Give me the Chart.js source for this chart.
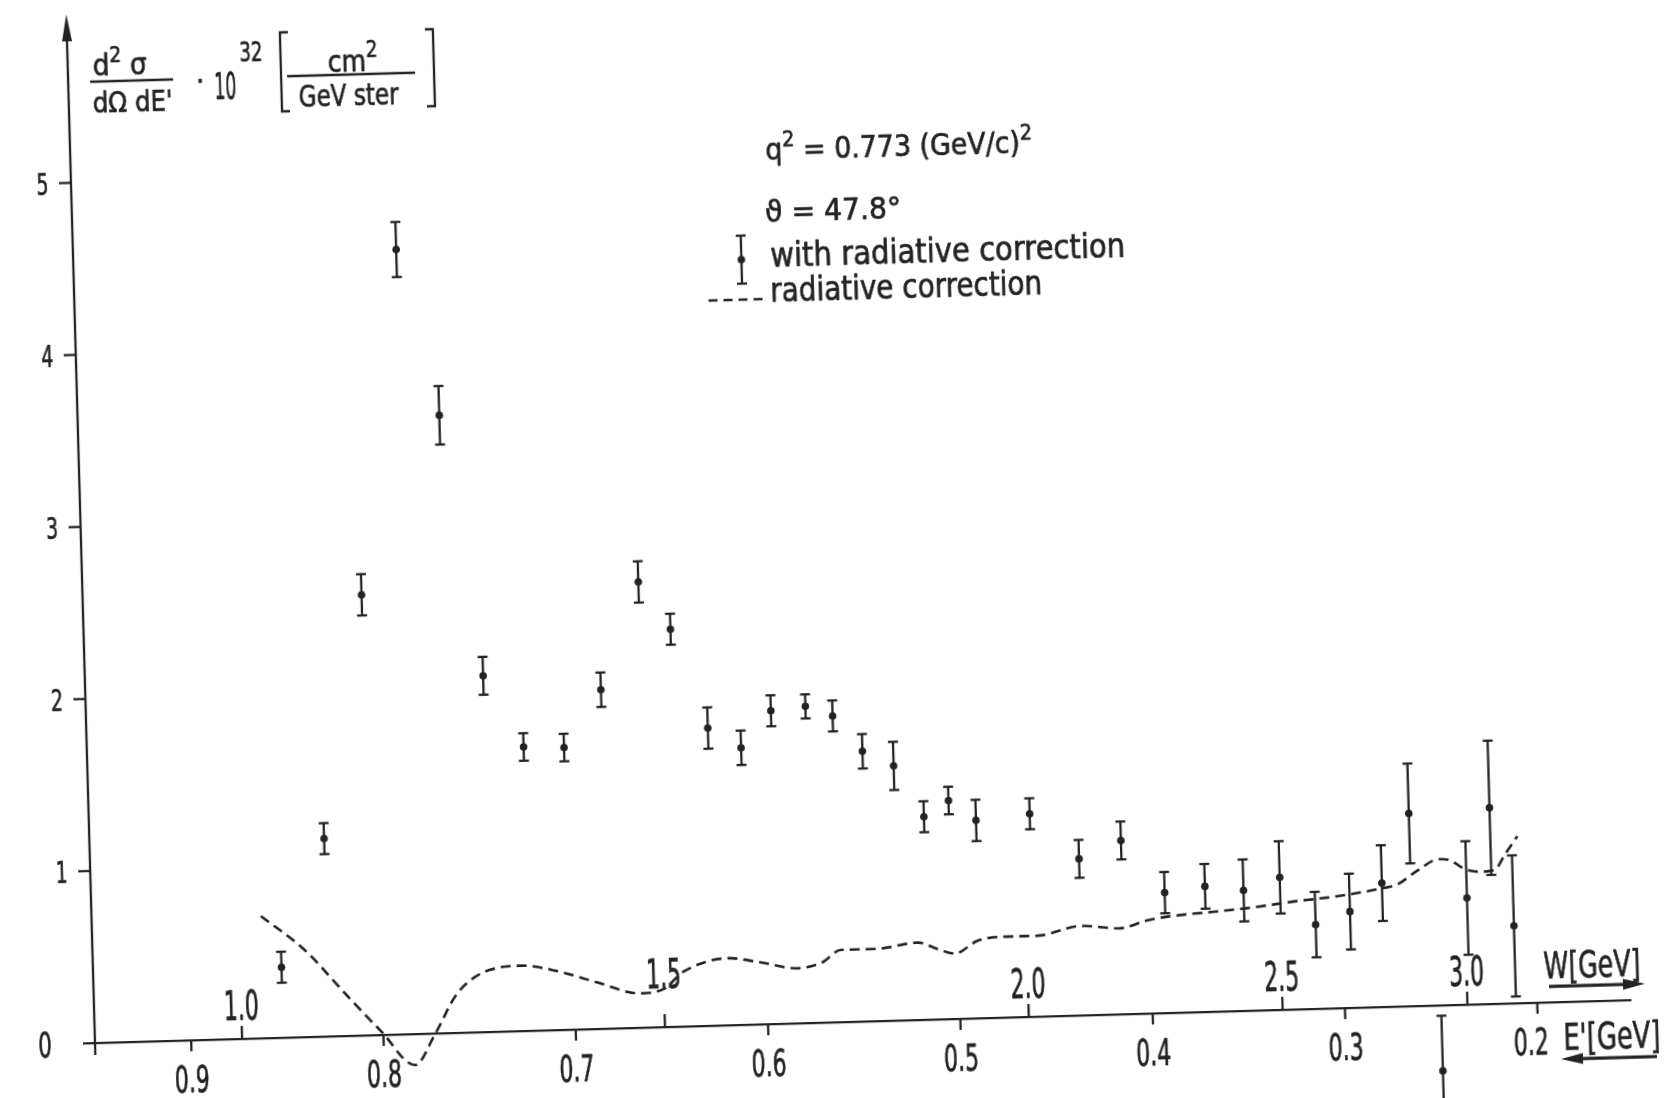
<!DOCTYPE html>
<html>
<head>
<meta charset="utf-8">
<script src="https://cdn.jsdelivr.net/npm/chart.js@4.4.1/dist/chart.umd.min.js"></script>
<style>
html,body{margin:0;padding:0;background:#fff;overflow:hidden;width:1668px;height:1098px;}
#wrap{position:absolute;left:0;top:0;width:1700px;height:1160px;transform-origin:95px 1043px;transform:rotate(-1.6deg);}
canvas{display:block;}
</style>
</head>
<body>
<div id="wrap"><canvas id="c" width="1700" height="1160"></canvas></div>
<script>
// ---- data ----
const ePrime = [0.852, 0.828, 0.805, 0.782, 0.762, 0.743, 0.723, 0.702, 0.682, 0.661, 0.645, 0.627,
                0.610, 0.594, 0.576, 0.562, 0.547, 0.531, 0.516, 0.503, 0.489, 0.461, 0.436, 0.414,
                0.392, 0.371, 0.351, 0.332, 0.314, 0.296, 0.279, 0.264, 0.250, 0.235, 0.222, 0.211];
const sigma = [0.41, 1.15, 2.56, 4.56, 3.59, 2.07, 1.65, 1.64, 1.97, 2.59, 2.31, 1.73,
               1.61, 1.82, 1.84, 1.78, 1.57, 1.48, 1.18, 1.27, 1.15, 1.18, 0.91, 1.01,
               0.70, 0.73, 0.70, 0.77, 0.49, 0.56, 0.72, 1.12, -0.38, 0.62, 1.14, 0.45];
const sigmaErr = [0.09, 0.09, 0.12, 0.16, 0.17, 0.11, 0.08, 0.08, 0.10, 0.12, 0.09, 0.12,
                  0.10, 0.09, 0.07, 0.09, 0.10, 0.14, 0.09, 0.08, 0.12, 0.09, 0.11, 0.11,
                  0.12, 0.13, 0.18, 0.21, 0.19, 0.22, 0.22, 0.29, 0.32, 0.33, 0.39, 0.41];
const radE = [0.862, 0.840, 0.818, 0.801, 0.784, 0.773, 0.761, 0.744, 0.727, 0.708, 0.688, 0.666,
              0.654, 0.643, 0.620, 0.603, 0.584, 0.571, 0.561, 0.543, 0.521, 0.511, 0.502, 0.490,
              0.478, 0.459, 0.436, 0.416, 0.402, 0.391, 0.368, 0.346, 0.323, 0.312, 0.296, 0.279,
              0.271, 0.260, 0.249, 0.243, 0.236, 0.227, 0.220, 0.215, 0.208];
const radVal = [0.71, 0.51, 0.23, 0.02, -0.18, 0.00, 0.23, 0.36, 0.38, 0.34, 0.27, 0.20,
                0.22, 0.32, 0.39, 0.36, 0.32, 0.35, 0.42, 0.42, 0.45, 0.41, 0.38, 0.45,
                0.47, 0.47, 0.52, 0.50, 0.54, 0.56, 0.58, 0.60, 0.63, 0.64, 0.66, 0.69,
                0.71, 0.79, 0.85, 0.84, 0.79, 0.77, 0.78, 0.86, 0.97];
const eTicks = [0.9, 0.8, 0.7, 0.6, 0.5, 0.4, 0.3, 0.2];
const eTickLabels = ['0.9', '0.8', '0.7', '0.6', '0.5', '0.4', '0.3', '0.2'];
const yTicks = [0, 1, 2, 3, 4, 5];
const yTickLabels = ['0', '1', '2', '3', '4', '5'];
const wTickLabels = ['1.0', '1.5', '2.0', '2.5', '3.0'];
const wTickAt = [0.8735, 0.6536, 0.4644, 0.3324, 0.2363];

// ---- drawing helpers ----
const INK = '#232323';
const FONT = "'DejaVu Sans', 'Liberation Sans', Arial, sans-serif";
const TEXT_STROKE = 0.7;

function fitText(ctx, s, x, y, size, width, align) {
  ctx.save();
  ctx.font = size + 'px ' + FONT;
  const w = ctx.measureText(s).width;
  const k = width / w;
  ctx.translate(x, y);
  ctx.scale(k, 1);
  ctx.textAlign = align || 'left';
  ctx.textBaseline = 'alphabetic';
  ctx.fillStyle = INK;
  ctx.strokeStyle = INK;
  ctx.lineWidth = TEXT_STROKE;
  ctx.lineJoin = 'round';
  ctx.fillText(s, 0, 0);
  ctx.strokeText(s, 0, 0);
  ctx.restore();
}
function richText(ctx, segs, x, y, size, width) {
  ctx.save();
  const parts = segs.map(([t, sup]) => {
    const fs = sup ? size * 0.72 : size;
    ctx.font = fs + 'px ' + FONT;
    return {t, sup, fs, w: ctx.measureText(t).width};
  });
  const total = parts.reduce((a, p) => a + p.w, 0);
  const k = width / total;
  ctx.translate(x, y);
  ctx.scale(k, 1);
  ctx.fillStyle = INK;
  ctx.strokeStyle = INK;
  ctx.lineWidth = TEXT_STROKE;
  ctx.lineJoin = 'round';
  ctx.textAlign = 'left';
  ctx.textBaseline = 'alphabetic';
  let cx = 0;
  for (const p of parts) {
    ctx.font = p.fs + 'px ' + FONT;
    const yy = p.sup ? -size * 0.45 : 0;
    ctx.fillText(p.t, cx, yy);
    ctx.strokeText(p.t, cx, yy);
    cx += p.w;
  }
  ctx.restore();
}
function seg(ctx, x1, y1, x2, y2) {
  ctx.beginPath(); ctx.moveTo(x1, y1); ctx.lineTo(x2, y2); ctx.stroke();
}
function errorBar(ctx, px, pTop, pBot, pMid) {
  seg(ctx, px, pTop, px, pBot);
  seg(ctx, px - 5, pTop, px + 5, pTop);
  seg(ctx, px - 5, pBot, px + 5, pBot);
  if (pMid !== undefined) {
    ctx.beginPath(); ctx.arc(px, pMid, 3.8, 0, Math.PI * 2); ctx.fill();
  }
}
function bracket(ctx, x, yTop, yBot, dir) {
  ctx.beginPath();
  ctx.moveTo(x + dir * 8, yTop);
  ctx.lineTo(x, yTop);
  ctx.lineTo(x, yBot);
  ctx.lineTo(x + dir * 8, yBot);
  ctx.stroke();
}

const errorBarPlugin = {
  id: 'errorBars',
  afterDatasetsDraw(chart) {
    const {ctx, scales: {x, y}} = chart;
    ctx.save();
    ctx.strokeStyle = INK; ctx.lineWidth = 2.3;
    for (let i = 0; i < ePrime.length; i++) {
      const px = x.getPixelForValue(ePrime[i]);
      errorBar(ctx, px, y.getPixelForValue(sigma[i] + sigmaErr[i]), y.getPixelForValue(sigma[i] - sigmaErr[i]));
    }
    ctx.restore();
  }
};

const axesPlugin = {
  id: 'axesAndText',
  afterDraw(chart) {
    const {ctx, scales: {x, y}} = chart;
    const x0 = x.getPixelForValue(x.max);
    const y0 = y.getPixelForValue(0);
    ctx.save();
    ctx.strokeStyle = INK; ctx.fillStyle = INK; ctx.lineWidth = 2.3;

    // x axis line
    seg(ctx, x0 - 12, y0, x.right - 2, y0);
    // y axis line + arrow
    const yTip = y.getPixelForValue(y.max) - 5;
    seg(ctx, x0, y0 + 12, x0, yTip + 20);
    ctx.beginPath();
    ctx.moveTo(x0, yTip); ctx.lineTo(x0 - 5, yTip + 27); ctx.lineTo(x0 + 5, yTip + 27);
    ctx.closePath(); ctx.fill();

    // y ticks and labels
    yTicks.forEach((v, i) => {
      const py = y.getPixelForValue(v);
      if (v !== 0) {
        seg(ctx, x0 - 12, py, x0, py);
        fitText(ctx, yTickLabels[i], x0 - 28.5, py + 11, 31, 12, 'center');
      } else {
        fitText(ctx, yTickLabels[i], x0 - 50, py + 12.5, 35, 13.5, 'center');
      }
    });

    // E' ticks (downward) and labels
    eTicks.forEach((v, i) => {
      const px = x.getPixelForValue(v);
      seg(ctx, px, y0, px, y0 + 11);
      const off = (i === eTicks.length - 1) ? -7 : 0;
      fitText(ctx, eTickLabels[i], px + off, y0 + 52, 38, 35, 'center');
    });

    // W ticks (upward) and labels
    wTickAt.forEach((v, i) => {
      const px = x.getPixelForValue(v);
      seg(ctx, px, y0, px, y0 - 13);
      const lift = (wTickLabels[i] === '1.5') ? 54 : 34;
      fitText(ctx, wTickLabels[i], px, y0 - lift + 15, 40, 35, 'center');
    });

    // W[GeV] arrow (right) and E'[GeV] arrow (left)
    fitText(ctx, 'W[GeV]', 1545, y0 - 24.5, 38, 97, 'left');
    ctx.lineWidth = 3.2;
    seg(ctx, 1550, y0 - 16, 1628, y0 - 16);
    ctx.beginPath(); ctx.moveTo(1646, y0 - 16); ctx.lineTo(1624, y0 - 21.5); ctx.lineTo(1624, y0 - 10.5); ctx.closePath(); ctx.fill();
    fitText(ctx, "E'[GeV]", 1563, y0 + 48, 38, 97, 'left');
    seg(ctx, 1578, y0 + 57, 1656, y0 + 57);
    ctx.beginPath(); ctx.moveTo(1560, y0 + 57); ctx.lineTo(1582, y0 + 51.5); ctx.lineTo(1582, y0 + 62.5); ctx.closePath(); ctx.fill();
    ctx.lineWidth = 2.3;

    // y axis title: d²σ/(dΩ dE') · 10^32 [cm²/(GeV ster)]
    richText(ctx, [['d', false], ['2', true], [' σ', false]], 120, 76, 30, 54);
    seg(ctx, 117, 82, 200, 82);
    fitText(ctx, "dΩ dE'", 119, 113, 29, 80, 'left');
    fitText(ctx, '·', 227, 95, 30, 8, 'center');
    fitText(ctx, '10', 241, 103, 37, 22, 'left');
    fitText(ctx, '32', 267, 66, 26, 23, 'left');
    bracket(ctx, 308, 38, 117, 1);
    richText(ctx, [['cm', false], ['2', true]], 355, 79, 31, 50);
    seg(ctx, 314, 82, 442, 82);
    fitText(ctx, 'GeV ster', 325, 113, 30, 100, 'left');
    bracket(ctx, 461, 39, 116, -1);

    // annotations / legend
    richText(ctx, [['q', false], ['2', true], [' = 0.773 (GeV/c)', false], ['2', true]], 790, 179, 30, 267);
    fitText(ctx, 'ϑ = 47.8°', 788, 241, 30, 136, 'left');
    errorBar(ctx, 763, 254, 302, 278);
    fitText(ctx, 'with radiative correction', 792, 285.5, 33, 355, 'left');
    ctx.setLineDash([9, 6]);
    seg(ctx, 729, 318, 786, 318);
    ctx.setLineDash([]);
    fitText(ctx, 'radiative correction', 791, 320.5, 33, 272, 'left');

    ctx.restore();
  }
};

new Chart(document.getElementById('c'), {
  type: 'scatter',
  data: {
    datasets: [
      {
        type: 'line',
        label: 'radiative correction',
        data: radE.map((e, i) => ({x: e, y: radVal[i]})),
        borderColor: INK,
        borderWidth: 2.6,
        borderDash: [10, 6],
        pointRadius: 0,
        fill: false,
        cubicInterpolationMode: 'monotone'
      },
      {
        type: 'scatter',
        label: 'with radiative correction',
        data: ePrime.map((e, i) => ({x: e, y: sigma[i]})),
        pointRadius: 3.8,
        pointBackgroundColor: INK,
        pointBorderWidth: 0,
        borderColor: INK,
        backgroundColor: INK
      }
    ]
  },
  options: {
    responsive: false,
    animation: false,
    devicePixelRatio: 1,
    layout: {padding: {left: 95, right: 66, top: 19, bottom: 13.7}},
    plugins: {legend: {display: false}, tooltip: {enabled: false}},
    scales: {
      x: {type: 'linear', reverse: true, min: 0.15, max: 0.95, display: false},
      y: {type: 'linear', min: -0.6, max: 5.95, display: false}
    }
  },
  plugins: [errorBarPlugin, axesPlugin]
});
</script>
</body>
</html>
